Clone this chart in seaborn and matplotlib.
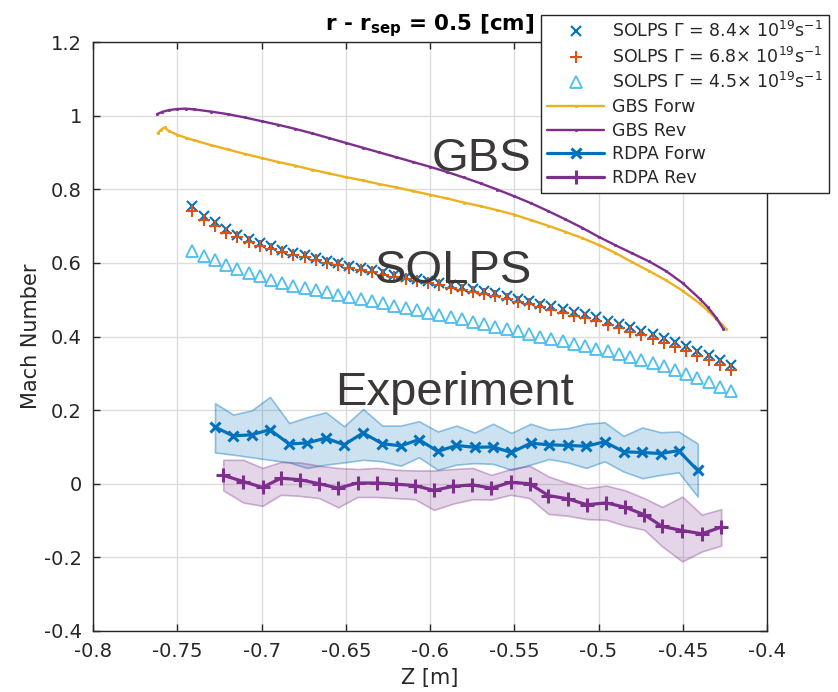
import numpy as np
import pandas as pd
import matplotlib
matplotlib.use("Agg")
import matplotlib.pyplot as plt
import seaborn as sns

# ---------------- data ----------------
solps_z = [-0.7410, -0.7343, -0.7277, -0.7210, -0.7144, -0.7077, -0.7010, -0.6944, -0.6877, -0.6811,
           -0.6744, -0.6677, -0.6611, -0.6544, -0.6478, -0.6411, -0.6344, -0.6278, -0.6211, -0.6145,
           -0.6078, -0.6011, -0.5945, -0.5878, -0.5812, -0.5745, -0.5678, -0.5612, -0.5545, -0.5479,
           -0.5412, -0.5345, -0.5279, -0.5212, -0.5146, -0.5079, -0.5012, -0.4946, -0.4879, -0.4813,
           -0.4746, -0.4679, -0.4613, -0.4546, -0.4480, -0.4413, -0.4346, -0.4280, -0.4213]
solps_84 = [0.755, 0.728, 0.710, 0.691, 0.677, 0.665, 0.654, 0.645, 0.636, 0.628,
            0.621, 0.613, 0.606, 0.599, 0.592, 0.586, 0.580, 0.574, 0.568, 0.562,
            0.557, 0.551, 0.546, 0.541, 0.535, 0.529, 0.523, 0.517, 0.510, 0.503,
            0.496, 0.489, 0.482, 0.475, 0.467, 0.460, 0.452, 0.443, 0.434, 0.425,
            0.416, 0.406, 0.395, 0.384, 0.373, 0.361, 0.349, 0.336, 0.322]
solps_68 = [0.740, 0.717, 0.700, 0.682, 0.669, 0.658, 0.647, 0.638, 0.630, 0.622,
            0.615, 0.607, 0.600, 0.593, 0.586, 0.580, 0.574, 0.568, 0.562, 0.556,
            0.550, 0.544, 0.539, 0.533, 0.527, 0.521, 0.515, 0.509, 0.502, 0.495,
            0.488, 0.480, 0.473, 0.465, 0.457, 0.450, 0.441, 0.432, 0.423, 0.413,
            0.404, 0.393, 0.382, 0.371, 0.360, 0.347, 0.335, 0.322, 0.308]
solps_45 = [0.633, 0.618, 0.607, 0.595, 0.583, 0.572, 0.563, 0.554, 0.545, 0.537,
            0.532, 0.526, 0.520, 0.514, 0.508, 0.502, 0.496, 0.490, 0.484, 0.477,
            0.471, 0.465, 0.459, 0.453, 0.447, 0.440, 0.434, 0.427, 0.420, 0.414,
            0.407, 0.400, 0.394, 0.387, 0.380, 0.373, 0.367, 0.360, 0.352, 0.344,
            0.336, 0.328, 0.320, 0.310, 0.299, 0.287, 0.276, 0.263, 0.251]

gbs_forw_z = [-0.7615, -0.7595, -0.7575, -0.755, -0.750, -0.745, -0.740, -0.730, -0.720, -0.710,
              -0.700, -0.690, -0.680, -0.670, -0.660, -0.650, -0.640, -0.630, -0.620, -0.610,
              -0.600, -0.590, -0.580, -0.570, -0.560, -0.550, -0.540, -0.530, -0.520, -0.510,
              -0.500, -0.490, -0.480, -0.470, -0.460, -0.450, -0.440, -0.435, -0.430, -0.4265, -0.4242]
gbs_forw = [0.953, 0.962, 0.968, 0.958, 0.948, 0.940, 0.933, 0.920, 0.908, 0.896,
            0.885, 0.874, 0.864, 0.853, 0.843, 0.833, 0.824, 0.814, 0.805, 0.795,
            0.785, 0.775, 0.764, 0.754, 0.743, 0.731, 0.716, 0.701, 0.685, 0.668,
            0.649, 0.627, 0.602, 0.578, 0.553, 0.524, 0.490, 0.470, 0.447, 0.432, 0.420]

gbs_rev_z = [-0.762, -0.759, -0.755, -0.750, -0.745, -0.740, -0.730, -0.720, -0.710, -0.700,
             -0.690, -0.680, -0.670, -0.660, -0.650, -0.640, -0.630, -0.620, -0.610, -0.600,
             -0.590, -0.580, -0.570, -0.560, -0.550, -0.540, -0.530, -0.520, -0.510, -0.500,
             -0.490, -0.480, -0.470, -0.460, -0.450, -0.440, -0.435, -0.430, -0.426]
gbs_rev = [1.004, 1.010, 1.015, 1.018, 1.019, 1.017, 1.011, 1.004, 0.995, 0.985,
           0.975, 0.964, 0.952, 0.939, 0.926, 0.913, 0.900, 0.887, 0.874, 0.861,
           0.847, 0.832, 0.816, 0.799, 0.781, 0.762, 0.741, 0.719, 0.696, 0.671,
           0.648, 0.626, 0.604, 0.578, 0.545, 0.503, 0.479, 0.450, 0.421]

rdpa_forw_z = [-0.7276, -0.7168, -0.7059, -0.6950, -0.6836, -0.6729, -0.6618, -0.6510, -0.6397,
               -0.6284, -0.6174, -0.6066, -0.5954, -0.5843, -0.5735, -0.5626, -0.5517, -0.5403,
               -0.5294, -0.5182, -0.5073, -0.4964, -0.4851, -0.4740, -0.4632, -0.4525, -0.4411]
rdpa_forw = [0.154, 0.130, 0.133, 0.147, 0.108, 0.111, 0.124, 0.106, 0.138,
             0.109, 0.103, 0.120, 0.088, 0.104, 0.099, 0.100, 0.085, 0.110,
             0.106, 0.104, 0.102, 0.114, 0.087, 0.085, 0.082, 0.090, 0.036]
rdpa_forw_hi = [0.219, 0.188, 0.199, 0.236, 0.165, 0.181, 0.194, 0.156, 0.203,
                0.158, 0.158, 0.170, 0.142, 0.158, 0.139, 0.163, 0.138, 0.163,
                0.147, 0.151, 0.163, 0.167, 0.130, 0.153, 0.140, 0.142, 0.109]
rdpa_forw_lo = [0.085, 0.079, 0.072, 0.065, 0.058, 0.043, 0.052, 0.058, 0.065,
                0.061, 0.049, 0.072, 0.038, 0.052, 0.056, 0.054, 0.038, 0.052,
                0.067, 0.058, 0.043, 0.061, 0.033, 0.015, 0.024, 0.031, -0.035]

rdpa_rev_z = [-0.7227, -0.7108, -0.6994, -0.6885, -0.6772, -0.6657, -0.6545, -0.6430, -0.6317,
              -0.6203, -0.6090, -0.5976, -0.5863, -0.5748, -0.5636, -0.5522, -0.5409, -0.5297,
              -0.5182, -0.5069, -0.4954, -0.4841, -0.4729, -0.4622, -0.4503, -0.4387, -0.4272]
rdpa_rev = [0.023, 0.006, -0.010, 0.015, 0.011, 0.000, -0.012, 0.002, 0.002,
            -0.001, -0.005, -0.018, -0.007, -0.003, -0.012, 0.004, 0.000, -0.032,
            -0.041, -0.057, -0.052, -0.064, -0.084, -0.116, -0.127, -0.136, -0.118]
rdpa_rev_hi = [0.065, 0.065, 0.043, 0.059, 0.058, 0.049, 0.043, 0.040, 0.043,
               0.038, 0.036, 0.036, 0.040, 0.043, 0.024, 0.040, 0.049, 0.020,
               0.002, -0.012, -0.005, -0.018, -0.039, -0.063, -0.035, -0.084, -0.069]
rdpa_rev_lo = [-0.018, -0.051, -0.060, -0.030, -0.033, -0.039, -0.064, -0.036, -0.036,
               -0.039, -0.042, -0.071, -0.054, -0.042, -0.043, -0.030, -0.039, -0.082,
               -0.087, -0.096, -0.098, -0.114, -0.125, -0.170, -0.211, -0.184, -0.168]

x_ticks = [-0.8, -0.75, -0.7, -0.65, -0.6, -0.55, -0.5, -0.45, -0.4]
x_ticklabels = ["-0.8", "-0.75", "-0.7", "-0.65", "-0.6", "-0.55", "-0.5", "-0.45", "-0.4"]
y_ticks = [-0.4, -0.2, 0, 0.2, 0.4, 0.6, 0.8, 1.0, 1.2]
y_ticklabels = ["-0.4", "-0.2", "0", "0.2", "0.4", "0.6", "0.8", "1", "1.2"]

labels = [r"SOLPS $\Gamma$ = 8.4$\times$ 10$^{19}$s$^{-1}$",
          r"SOLPS $\Gamma$ = 6.8$\times$ 10$^{19}$s$^{-1}$",
          r"SOLPS $\Gamma$ = 4.5$\times$ 10$^{19}$s$^{-1}$",
          "GBS Forw", "GBS Rev", "RDPA Forw", "RDPA Rev"]

# ---------------- style ----------------
sns.set_theme(style="ticks")
plt.rcParams["font.family"] = ["DejaVu Sans"]
plt.rcParams["axes.unicode_minus"] = False
plt.rcParams["mathtext.fontset"] = "dejavusans"
plt.rcParams["legend.numpoints"] = 1

BLUE = "#0072BD"
ORANGE = "#D95319"
YELLOW = "#EDB120"
PURPLE = "#7E2F8E"
CYAN = "#4DBEEE"
SPINE = "#262626"

fig = plt.figure(figsize=(8.38, 6.92), dpi=100)
ax = fig.add_axes([93 / 838, 61 / 692, 674 / 838, 589 / 692])

# bands
ax.fill_between(rdpa_forw_z, rdpa_forw_lo, rdpa_forw_hi,
                facecolor=(0.0, 0.447, 0.741, 0.2), edgecolor=(0.0, 0.447, 0.741, 0.4),
                linewidth=1.2, zorder=2)
ax.fill_between(rdpa_rev_z, rdpa_rev_lo, rdpa_rev_hi,
                facecolor=(0.494, 0.184, 0.557, 0.2), edgecolor=(0.494, 0.184, 0.557, 0.35),
                linewidth=1.2, zorder=2)

common = dict(ax=ax, sort=False, estimator=None, legend=False)

h1 = sns.lineplot(x=solps_z, y=solps_84, linestyle="", marker="x", markersize=7,
                  markeredgewidth=1.5, markeredgecolor=BLUE, color=BLUE, **common).get_lines()[-1]
h2 = sns.lineplot(x=solps_z, y=solps_68, linestyle="", marker="+", markersize=9,
                  markeredgewidth=1.5, markeredgecolor=ORANGE, color=ORANGE, **common).get_lines()[-1]
h3 = sns.lineplot(x=solps_z, y=solps_45, linestyle="", marker="^", markersize=9,
                  markeredgewidth=1.3, markeredgecolor=CYAN, markerfacecolor="none",
                  color=CYAN, **common).get_lines()[-1]
h4 = sns.lineplot(x=gbs_forw_z, y=gbs_forw, linestyle="-", linewidth=1.7, marker=".",
                  markersize=3.5, markeredgewidth=0.5, markeredgecolor=YELLOW,
                  color=YELLOW, **common).get_lines()[-1]
h5 = sns.lineplot(x=gbs_rev_z, y=gbs_rev, linestyle="-", linewidth=1.7, marker=".",
                  markersize=3.5, markeredgewidth=0.5, markeredgecolor=PURPLE,
                  color=PURPLE, **common).get_lines()[-1]
h6 = sns.lineplot(x=rdpa_forw_z, y=rdpa_forw, linestyle="-", linewidth=2.3, marker="x",
                  markersize=7, markeredgewidth=2.2, markeredgecolor=BLUE,
                  color=BLUE, **common).get_lines()[-1]
h7 = sns.lineplot(x=rdpa_rev_z, y=rdpa_rev, linestyle="-", linewidth=2.3, marker="+",
                  markersize=10, markeredgewidth=2.2, markeredgecolor=PURPLE,
                  color=PURPLE, **common).get_lines()[-1]

# annotations
ann_font = dict(family="Liberation Sans", fontsize=34, color="#3d3838", ha="center", va="baseline")
ax.text(-0.5693, 0.849, "GBS", zorder=6, **ann_font)
ax.text(-0.5859, 0.545, "SOLPS", zorder=6, **ann_font)
ax.text(-0.5856, 0.213, "Experiment", zorder=6, **ann_font)

# axes
ax.set_xlim(-0.8, -0.4)
ax.set_ylim(-0.4, 1.2)
ax.set_xticks(x_ticks)
ax.set_xticklabels(x_ticklabels)
ax.set_yticks(y_ticks)
ax.set_yticklabels(y_ticklabels)
ax.tick_params(direction="in", length=5, width=1, top=True, right=True,
               labelsize=14, pad=8, colors=SPINE)
ax.grid(True, color="#dcdcdc", linewidth=1)
ax.set_axisbelow(True)
for s in ax.spines.values():
    s.set_visible(True)
    s.set_color(SPINE)
    s.set_linewidth(1)

ax.set_xlabel("Z [m]", fontsize=15, color=SPINE, labelpad=5)
ax.set_ylabel("Mach Number", fontsize=15, color=SPINE, labelpad=2)
ax.set_title(r"r - r$_{\mathbf{sep}}$ = 0.5 [cm]", fontsize=15.5, fontweight="bold",
             color="black", pad=8)

leg = fig.legend([h1, h2, h3, h4, h5, h6, h7], labels, loc="upper left",
                 bbox_to_anchor=(541 / 838, 1 - 15 / 692), frameon=True, fancybox=False,
                 edgecolor=SPINE, framealpha=1, fontsize=12.5, handlelength=3.3,
                 handletextpad=0.45, labelspacing=0.32, borderpad=0.35, borderaxespad=0,
                 numpoints=1)
leg.get_frame().set_linewidth(1)

fig.savefig("out.png", dpi=100, facecolor="white")
